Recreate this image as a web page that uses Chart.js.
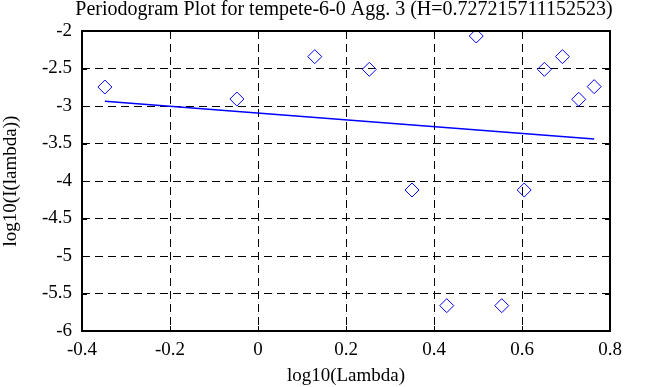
<!DOCTYPE html>
<html>
<head>
<meta charset="utf-8">
<script src="https://cdn.jsdelivr.net/npm/chart.js@4"></script>
<style>
  html, body { margin: 0; padding: 0; background: #fff; }
  #wrap { width: 658px; height: 387px; }
</style>
</head>
<body>
<div id="wrap"><canvas id="pgram" width="658" height="387"></canvas></div>
<script>
// periodogram points
const logLambda = [-0.348, -0.048, 0.129, 0.253, 0.350, 0.429, 0.496, 0.554, 0.605, 0.651, 0.692, 0.729, 0.764];
const logI      = [-2.747, -2.907, -2.342, -2.511, -4.120, -5.662, -2.067, -5.662, -4.120, -2.511, -2.342, -2.911, -2.742];

// fitted line end points
const fitX = [-0.348, 0.764];
const fitY = [-2.937, -3.440];

const titleText = 'Periodogram Plot for tempete-6-0 Agg. 3 (H=0.727215711152523)';
const serif = "'Liberation Serif', 'DejaVu Serif', serif";

const points = logLambda.map((x, i) => ({ x: x, y: logI[i] }));
const fit = fitX.map((x, i) => ({ x: x, y: fitY[i] }));

const fmt = v => String(Math.round(v * 10) / 10);

// frame, inner ticks and title
const framePlugin = {
    id: 'frame',
    afterDraw(chart) {
        const ctx = chart.ctx;
        const a = chart.chartArea;
        const xs = chart.scales.x, ys = chart.scales.y;
        ctx.save();
        ctx.strokeStyle = '#000';
        ctx.lineWidth = 1;
        ctx.setLineDash([]);
        ctx.beginPath();
        xs.ticks.forEach(t => {
            const px = Math.round(xs.getPixelForValue(t.value)) + 0.5;
            ctx.moveTo(px, a.top); ctx.lineTo(px, a.top + 5);
            ctx.moveTo(px, a.bottom); ctx.lineTo(px, a.bottom - 5);
        });
        ys.ticks.forEach(t => {
            const py = Math.round(ys.getPixelForValue(t.value)) + 0.5;
            ctx.moveTo(a.left, py); ctx.lineTo(a.left + 5, py);
            ctx.moveTo(a.right, py); ctx.lineTo(a.right - 5, py);
        });
        ctx.stroke();
        ctx.lineWidth = 2;
        ctx.strokeRect(a.left, a.top, a.right - a.left, a.bottom - a.top);
        ctx.fillStyle = '#000';
        ctx.font = '20px ' + serif;
        ctx.textAlign = 'center';
        ctx.textBaseline = 'middle';
        ctx.fillText(titleText, (a.left + a.right) / 2 - 2, 10);
        ctx.restore();
    }
};

new Chart(document.getElementById('pgram'), {
    type: 'scatter',
    data: {
        datasets: [
            {
                label: 'periodogram',
                data: points,
                pointStyle: 'rectRot',
                pointRadius: 7,
                pointHoverRadius: 7,
                borderColor: '#0000ff',
                backgroundColor: 'rgba(0,0,0,0)',
                borderWidth: 1
            },
            {
                type: 'line',
                label: 'fit',
                data: fit,
                borderColor: '#0000ff',
                borderWidth: 1.5,
                pointRadius: 0,
                fill: false
            }
        ]
    },
    options: {
        responsive: false,
        animation: false,
        layout: { padding: { top: 31, right: 48, left: 0, bottom: 0 } },
        plugins: {
            legend: { display: false },
            title: { display: false },
            tooltip: { enabled: false }
        },
        scales: {
            x: {
                type: 'linear',
                min: -0.4,
                max: 0.8,
                afterFit(scale) { scale.height = 56; },
                ticks: {
                    stepSize: 0.2,
                    color: '#000',
                    font: { family: serif, size: 19 },
                    padding: 8,
                    maxRotation: 0,
                    callback: fmt
                },
                grid: {
                    color: '#000',
                    lineWidth: 1,
                    drawTicks: false
                },
                border: { display: false, dash: [8, 5] },
                title: {
                    display: true,
                    text: 'log10(Lambda)',
                    color: '#000',
                    font: { family: serif, size: 19 },
                    padding: { top: 0, bottom: 0 }
                }
            },
            y: {
                type: 'linear',
                min: -6,
                max: -2,
                afterFit(scale) { scale.width = 82; },
                ticks: {
                    stepSize: 0.5,
                    color: '#000',
                    font: { family: serif, size: 19 },
                    padding: 10,
                    callback: fmt
                },
                grid: {
                    color: '#000',
                    lineWidth: 1,
                    drawTicks: false
                },
                border: { display: false, dash: [8, 5] },
                title: {
                    display: true,
                    text: 'log10(I(lambda))',
                    color: '#000',
                    font: { family: serif, size: 19 },
                    padding: { top: 0, bottom: 0 }
                }
            }
        }
    },
    plugins: [framePlugin]
});
</script>
</body>
</html>
